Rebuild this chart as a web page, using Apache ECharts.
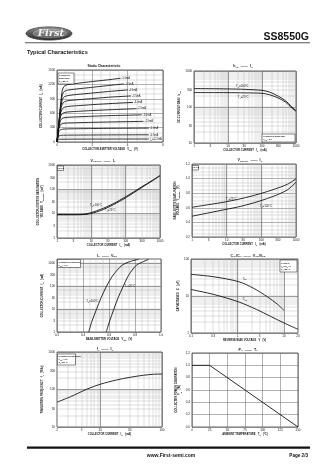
<!DOCTYPE html>
<html>
<head>
<meta charset="utf-8">
<script src="https://cdn.jsdelivr.net/npm/echarts@6/dist/echarts.min.js"></script>
<style>
  html, body { margin: 0; padding: 0; background: #fff; }
  #page { width: 336px; height: 475px; }
</style>
</head>
<body>
<div id="page"></div>
<script>
// ---------- Static characteristic: IC (mA) vs VCE (V), one curve per base current ----------
const staticLabels = ['-5.0mA', '-4.5mA', '-4.0mA', '-3.5mA', '-3.0mA', '-2.5mA', '-2.0mA', '-1.5mA', '-1.0mA', '-0.5mA', 'I{s|B}=-0.2mA'];
const ib50 = [[0,0],[0.1,380],[0.2,780],[0.3,1080],[0.4,1160],[0.6,1195],[1,1215],[2,1260],[3,1300],[3.6,1330]];
const ib45 = [[0,0],[0.1,370],[0.2,740],[0.3,980],[0.4,1050],[0.6,1080],[1,1100],[2,1140],[3,1180],[3.8,1210]];
const ib40 = [[0,0],[0.1,360],[0.2,700],[0.3,880],[0.4,940],[0.6,965],[1,985],[2,1020],[3,1055],[4,1085]];
const ib35 = [[0,0],[0.1,350],[0.2,660],[0.3,790],[0.4,835],[0.6,860],[1,875],[2,905],[3,935],[4.2,960]];
const ib30 = [[0,0],[0.1,340],[0.2,600],[0.3,690],[0.4,720],[0.6,740],[1,752],[2,778],[3,800],[4.3,825]];
const ib25 = [[0,0],[0.1,320],[0.2,530],[0.3,590],[0.4,610],[0.6,625],[1,635],[2,655],[3,672],[4.5,695]];
const ib20 = [[0,0],[0.1,300],[0.2,450],[0.3,490],[0.4,505],[0.6,515],[1,522],[2,537],[3,550],[4.8,565]];
const ib15 = [[0,0],[0.1,270],[0.2,360],[0.3,380],[0.4,390],[0.6,396],[1,400],[2,410],[3,418],[4.9,430]];
const ib10 = [[0,0],[0.1,215],[0.2,255],[0.3,265],[0.4,270],[0.6,273],[1,276],[2,280],[3,284],[5.2,290]];
const ib05 = [[0,0],[0.1,125],[0.2,138],[0.3,141],[0.6,143],[1,144],[2,146],[3,148],[5.2,150]];
const ib02 = [[0,0],[0.1,55],[0.2,58],[0.6,59],[1,60],[3,61],[5.2,62]];
const staticCurves = [ib50, ib45, ib40, ib35, ib30, ib25, ib20, ib15, ib10, ib05, ib02];

// ---------- DC current gain hFE vs IC (mA) ----------
const hfeIc    = [1, 3, 10, 30, 100, 170, 300, 500, 700, 1000];
const hfeT100  = [325, 323, 318, 310, 290, 258, 200, 148, 108, 78];
const hfeT25   = [252, 251, 250, 247, 240, 218, 178, 135, 100, 76];
const hfeXTicks = [1, 3, 10, 30, 100, 300, 1000];
const hfeYTicks = [10, 30, 100, 300, 1000];

// ---------- VCE(sat) (mV) vs IC (mA), beta = 10 ----------
const vceIc    = [1, 3, 7, 18, 43, 106, 260, 640, 1000];
const vceT100  = [9.2, 9.2, 9.8, 14.8, 25.5, 52, 114, 248, 370];
const vceT25   = [9.0, 9.0, 9.3, 13.2, 23, 47, 106, 238, 362];
const vceXTicks = [1, 3, 10, 30, 100, 300, 1000];
const vceYTicks = [1, 3, 10, 30, 100, 300, 1000];

// ---------- VBE(sat) (V) vs IC (mA), beta = 10 ----------
const vbeIc    = [1, 3, 9, 26, 85, 260, 570, 1000];
const vbeT25   = [0.607, 0.643, 0.68, 0.725, 0.788, 0.861, 0.924, 0.996];
const vbeT100  = [0.485, 0.53, 0.576, 0.621, 0.689, 0.77, 0.847, 0.951];
const vbeXTicks = [1, 3, 10, 30, 100, 300, 1000];

// ---------- IC (mA) vs VBE (V), VCE = -6V ----------
const icVbeIc   = [1, 3, 9.4, 30, 93, 295, 795, 1170, 1450];
const icVbeT100 = [0.444, 0.469, 0.503, 0.538, 0.579, 0.631, 0.70, 0.764, 0.828];
const icVbeT25  = [0.579, 0.605, 0.636, 0.669, 0.708, 0.751, 0.81, 0.867, 0.905];
const icVbeYTicks = [1, 3, 10, 30, 100, 300, 1000];

// ---------- Capacitance (pF) vs reverse bias (V) ----------
const cibV = [0.1, 0.31, 1.07, 2.25, 4.4, 7.2, 10];
const cib  = [38.4, 33.1, 24.3, 16.0, 9.5, 6.0, 4.1];
const cobV = [0.1, 0.31, 1.07, 2.6, 5.2, 10, 20];
const cob  = [15.0, 11.0, 6.9, 4.3, 2.8, 1.87, 1.26];
const capXTicks = [0.1, 0.3, 1, 3, 10, 20];
const capYTicks = [1, 10, 100];

// ---------- Transition frequency fT (MHz) vs IC (mA) ----------
const ftIc = [2, 3.3, 6.1, 10, 18.6, 30.7, 50.5, 73, 100];
const ft   = [46, 64, 102, 138, 180, 212, 240, 255, 258];
const ftXTicks = [2, 5, 10, 30, 100];
const ftYTicks = [10, 30, 100, 300, 1000];

// ---------- Power derating PC (W) vs Ta (°C) ----------
const pcTa = [0, 25, 150];
const pc   = [1.0, 1.0, 0];

// ================= styling helpers =================
const FONT = '"Liberation Sans", Arial, Helvetica, sans-serif';
const INK = '#141414';
const MINOR = '#adadad';
const MAJOR = '#636363';
const SUB = { fontSize: 2.1, verticalAlign: 'bottom', fontFamily: FONT, color: INK, padding: [0, 0, -0.6, 0] };
const NAME_STYLE = { fontSize: 2.7, color: INK, fontFamily: FONT, fontWeight: 'bold', lineHeight: 3.4, rich: { s: SUB } };
const LABEL_STYLE = { fontSize: 3, color: INK, fontFamily: FONT, margin: 2 };

function numText(v) {
  return String(+Number(v).toPrecision(6));
}

function linearAxis(gi, min, max, interval, minor, name, nameGap, fmt) {
  return {
    type: 'value', gridIndex: gi, min, max, interval,
    name, nameLocation: 'middle', nameGap, nameTextStyle: NAME_STYLE,
    axisLine: { show: false }, axisTick: { show: false },
    axisLabel: Object.assign({}, LABEL_STYLE, { formatter: fmt || numText }),
    splitLine: { show: true, lineStyle: { color: MAJOR, width: 0.5 } },
    minorTick: { show: false, splitNumber: minor || 1 },
    minorSplitLine: { show: !!minor, lineStyle: { color: MINOR, width: 0.4 } }
  };
}

// grid positions 1..9 of every decade inside [min, max]
function logGridValues(min, max) {
  const out = [];
  for (let e = Math.floor(Math.log10(min)); Math.pow(10, e) <= max * 1.0001; e++) {
    for (let k = 1; k < 10; k++) {
      const v = +(k * Math.pow(10, e)).toPrecision(6);
      if (v >= min * 0.9999 && v <= max * 1.0001) out.push(v);
    }
  }
  return out;
}
function decadeValues(min, max) {
  return logGridValues(min, max).filter(v => Math.abs(Math.log10(v) - Math.round(Math.log10(v))) < 1e-9);
}

// a log axis is drawn as a pair: fine 1..9 rulings with labels, plus darker decade rulings
function logAxisPair(gi, min, max, labels, name, nameGap) {
  const base = { type: 'log', logBase: 10, gridIndex: gi, min, max };
  return [
    Object.assign({}, base, {
      name, nameLocation: 'middle', nameGap, nameTextStyle: NAME_STYLE,
      axisLine: { show: false },
      axisTick: { show: false, customValues: logGridValues(min, max) },
      axisLabel: Object.assign({}, LABEL_STYLE, { customValues: labels, formatter: numText }),
      splitLine: { show: true, lineStyle: { color: MINOR, width: 0.4 } }
    }),
    Object.assign({}, base, {
      axisLine: { show: false },
      axisTick: { show: false, customValues: decadeValues(min, max) },
      axisLabel: { show: false },
      splitLine: { show: true, lineStyle: { color: MAJOR, width: 0.6 } }
    })
  ];
}

const xAxis = [], yAxis = [];
function addAxes(list, axes) {
  const i = list.length;
  [].concat(axes).forEach(a => list.push(a));
  return i;
}

function pairs(xs, ys) { return xs.map((x, i) => [x, ys[i]]); }

function curve(xi, yi, data, extra) {
  return Object.assign({
    type: 'line', xAxisIndex: xi, yAxisIndex: yi, data,
    symbol: 'circle', symbolSize: 0, showSymbol: true, smooth: 0.3,
    lineStyle: { color: INK, width: 0.9 }, itemStyle: { color: INK },
    silent: true, z: 5, label: { show: false }, emphasis: { disabled: true }
  }, extra || {});
}

// put a text label on one point of a curve
function tagPoint(data, idx, text, position, offset) {
  const d = data.slice();
  d[idx] = {
    value: d[idx],
    label: {
      show: true, formatter: text, position, offset: offset || [0, 0], distance: 1.5,
      fontSize: 2.8, color: INK, fontFamily: FONT, rich: { s: SUB }
    }
  };
  return d;
}

// ================= grids =================
const grids = [
  { left: 57,  top: 70,  width: 106, height: 72 },
  { left: 194, top: 71,  width: 102, height: 72 },
  { left: 57,  top: 165, width: 103, height: 73 },
  { left: 192, top: 164, width: 104, height: 73 },
  { left: 57,  top: 259, width: 104, height: 73 },
  { left: 191, top: 259, width: 107, height: 74 },
  { left: 57,  top: 352, width: 105, height: 75 },
  { left: 192, top: 353, width: 106, height: 74 }
].map(g => Object.assign(g, { show: true, borderColor: '#222', borderWidth: 0.7, backgroundColor: '#fff' }));

const series = [];

// 1. static characteristic
{
  const xi = addAxes(xAxis, linearAxis(0, 0, 6, 2, 4, 'COLLECTOR-EMITTER VOLTAGE   V{s|CE}   (V)', 5));
  const yi = addAxes(yAxis, linearAxis(0, 0, 1500, 300, 3, 'COLLECTOR CURRENT   I{s|C}   (mA)', 14));
  staticCurves.forEach((c, i) => {
    series.push(curve(xi, yi, c, {
      smooth: 0.2,
      endLabel: { show: true, formatter: staticLabels[i], fontSize: 2.6, color: INK, fontFamily: FONT, distance: 1, rich: { s: SUB } }
    }));
  });
}

// 2. hFE - IC
{
  const xi = addAxes(xAxis, logAxisPair(1, 1, 1000, hfeXTicks, 'COLLECTOR CURRENT   I{s|C}   (mA)', 5));
  const yi = addAxes(yAxis, logAxisPair(1, 10, 1000, hfeYTicks, 'DC CURRENT GAIN   h{s|FE}', 10));
  series.push(curve(xi, yi, tagPoint(pairs(hfeIc, hfeT100), 3, 'T{s|a}=100°C', 'top', [-2, 0])));
  series.push(curve(xi, yi, tagPoint(pairs(hfeIc, hfeT25), 3, 'T{s|a}=25°C', 'bottom', [-1, 1])));
}

// 3. VCE(sat) - IC
{
  const xi = addAxes(xAxis, logAxisPair(2, 1, 1000, vceXTicks, 'COLLECTOR CURRENT   I{s|C}   (mA)', 5));
  const yi = addAxes(yAxis, logAxisPair(2, 1, 1000, vceYTicks, 'COLLECTOR-EMITTER SATURATION\nVOLTAGE   V{s|CE(sat)}   (mV)', 12));
  series.push(curve(xi, yi, tagPoint(pairs(vceIc, vceT100), 3, 'T{s|a}=100°C', 'top', [-4, -1])));
  series.push(curve(xi, yi, tagPoint(pairs(vceIc, vceT25), 4, 'T{s|a}=25°C', 'bottom', [-3, 2])));
}

// 4. VBE(sat) - IC
{
  const xi = addAxes(xAxis, logAxisPair(3, 1, 1000, vbeXTicks, 'COLLECTOR CURRENT   I{s|C}   (mA)', 5));
  const yi = addAxes(yAxis, linearAxis(3, 0.2, 1.2, 0.2, 4, 'BASE-EMITTER SATURATION\nVOLTAGE   V{s|BE(sat)}   (V)', 12, v => v.toFixed(1)));
  series.push(curve(xi, yi, tagPoint(pairs(vbeIc, vbeT25), 2, 'T{s|a}=25°C', 'top', [6, 0])));
  series.push(curve(xi, yi, tagPoint(pairs(vbeIc, vbeT100), 4, 'T{s|a}=100°C', 'bottom', [7, 2])));
}

// 5. IC - VBE
{
  const xi = addAxes(xAxis, linearAxis(4, 0.2, 1.0, 0.2, 4, 'BASE-EMITTER VOLTAGE   V{s|BE}   (V)', 5, v => v.toFixed(1)));
  const yi = addAxes(yAxis, logAxisPair(4, 1, 1500, icVbeYTicks, 'COLLECTOR CURRENT   I{s|C}   (mA)', 12));
  series.push(curve(xi, yi, tagPoint(pairs(icVbeT100, icVbeIc), 3, 'T{s|a}=100°C', 'left', [-1, 3])));
  series.push(curve(xi, yi, tagPoint(pairs(icVbeT25, icVbeIc), 4, 'T{s|a}=25°C', 'right', [0, -1])));
}

// 6. Cob / Cib - reverse voltage
{
  const xi = addAxes(xAxis, logAxisPair(5, 0.1, 20, capXTicks, 'REVERSE BIAS VOLTAGE   V   (V)', 5));
  const yi = addAxes(yAxis, logAxisPair(5, 1, 100, capYTicks, 'CAPACITANCE   C   (pF)', 10));
  series.push(curve(xi, yi, tagPoint(pairs(cibV, cib), 2, 'C{s|ib}', 'top', [6, 0])));
  series.push(curve(xi, yi, tagPoint(pairs(cobV, cob), 2, 'C{s|ob}', 'top', [6, 0])));
}

// 7. fT - IC
{
  const xi = addAxes(xAxis, logAxisPair(6, 2, 100, ftXTicks, 'COLLECTOR CURRENT   I{s|C}   (mA)', 5));
  const yi = addAxes(yAxis, logAxisPair(6, 10, 1000, ftYTicks, 'TRANSITION FREQUENCY   f{s|T}   (MHz)', 12));
  series.push(curve(xi, yi, pairs(ftIc, ft)));
}

// 8. PC - Ta
{
  const xi = addAxes(xAxis, linearAxis(7, 0, 150, 25, 0, 'AMBIENT TEMPERATURE   T{s|a}   (°C)', 5));
  const yi = addAxes(yAxis, linearAxis(7, 0, 1.2, 0.2, 0, 'COLLECTOR POWER DISSIPATION\nP{s|C}   (W)', 10, v => v.toFixed(1)));
  series.push(curve(xi, yi, pairs(pcTa, pc), { smooth: false }));
}

// ================= page furniture =================
function text(x, y, str, size, opts) {
  opts = opts || {};
  return {
    type: 'text', x, y, silent: true, z: 20,
    style: {
      text: str, fill: opts.fill || INK, fontSize: size, fontFamily: opts.family || FONT,
      fontWeight: opts.weight || 'normal', fontStyle: opts.style || 'normal',
      align: opts.align || 'left', textAlign: opts.align || 'left',
      verticalAlign: 'middle', textVerticalAlign: 'middle',
      lineHeight: opts.lineHeight, rich: { s: Object.assign({}, SUB, { fontSize: size * 0.7 }) }
    }
  };
}
function noteBox(x, y, w, h, str) {
  return [
    { type: 'rect', shape: { x, y, width: w, height: h }, style: { fill: '#fff', stroke: INK, lineWidth: 0.5 }, z: 18, silent: true },
    Object.assign(text(x + 1, y + h / 2, str, 2.4, { lineHeight: 3.1, weight: 'bold' }), { z: 19 })
  ];
}

const graphic = [
  // logo
  { type: 'ellipse', shape: { cx: 49, cy: 33.5, rx: 23, ry: 6.6 }, z: 10, silent: true,
    style: { stroke: '#3a3a3a', lineWidth: 0.8,
      fill: { type: 'linear', x: 0, y: 0, x2: 0, y2: 1, colorStops: [
        { offset: 0, color: '#9a9a9a' }, { offset: 0.5, color: '#555' }, { offset: 1, color: '#2a2a2a' }] } } },
  { type: 'ellipse', shape: { cx: 50, cy: 33.5, rx: 17, ry: 4.2 }, z: 11, silent: true,
    style: { fill: 'rgba(255,255,255,0.22)', stroke: 'rgba(255,255,255,0.55)', lineWidth: 0.4 } },
  text(51, 33.5, 'First', 10, { align: 'center', weight: 'bold', style: 'italic', family: '"DejaVu Serif", "Liberation Serif", serif', fill: '#f2f2f2' }),
  // part number + rule
  text(309, 37.5, 'SS8550G', 10.5, { align: 'right', weight: 'bold' }),
  { type: 'rect', shape: { x: 25, y: 42.3, width: 285, height: 0.9 }, style: { fill: '#555' }, silent: true },
  text(27, 52, 'Typical Characteristics', 5.6, { weight: 'bold' }),

  // chart titles
  text(104, 66.5, 'Static Characteristic', 3.4, { align: 'center', weight: 'bold' }),
  text(243, 66, 'h{s|FE}  ——  I{s|C}', 3.6, { align: 'center', weight: 'bold' }),
  text(103, 160.5, 'V{s|CE(sat)}  ——  I{s|C}', 3.6, { align: 'center', weight: 'bold' }),
  text(250, 160, 'V{s|BE(sat)}  ——  I{s|C}', 3.6, { align: 'center', weight: 'bold' }),
  text(107, 255.5, 'I{s|C}  ——  V{s|BE}', 3.6, { align: 'center', weight: 'bold' }),
  text(248, 255.5, 'C{s|ob}/C{s|ib}  ——  V{s|CB}/V{s|EB}', 3.6, { align: 'center', weight: 'bold' }),
  text(105, 349, 'f{s|T}  ——  I{s|C}', 3.6, { align: 'center', weight: 'bold' }),
  text(248, 349.5, 'P{s|C}  ——  T{s|a}', 3.6, { align: 'center', weight: 'bold' }),

  // condition notes
  ...noteBox(58, 73, 16, 11, 'COMMON\nEMITTER\nT{s|a}=25°C'),
  ...noteBox(262, 134, 33, 8, 'COMMON EMITTER\nV{s|CE}=-6V'),
  ...noteBox(57.5, 166, 6, 4.5, 'β=10'),
  ...noteBox(192.5, 165.5, 6, 4.5, 'β=10'),
  ...noteBox(57.5, 259.5, 23, 8, 'COMMON EMITTER\nV{s|CE}=-6V'),
  ...noteBox(280, 260, 17, 12, 'f=1MHz\nI{s|E}=0/I{s|C}=0\nT{s|a}=25°C'),
  ...noteBox(57.5, 354, 18, 11, 'COMMON EMITTER\nV{s|CE}=-6V\nT{s|a}=25°C'),

  // footer
  { type: 'rect', shape: { x: 27, y: 446.5, width: 283, height: 2.2 }, style: { fill: '#111' }, silent: true },
  text(171, 455.5, 'www.First-semi.com', 5, { align: 'center', weight: 'bold' }),
  text(308, 455.5, 'Page 2/3', 4.6, { align: 'right', weight: 'bold' })
];

const chart = echarts.init(document.getElementById('page'), null, { renderer: 'canvas' });
chart.setOption({
  animation: false,
  backgroundColor: '#fff',
  textStyle: { fontFamily: FONT },
  grid: grids,
  xAxis, yAxis, series, graphic
});
</script>
</body>
</html>
